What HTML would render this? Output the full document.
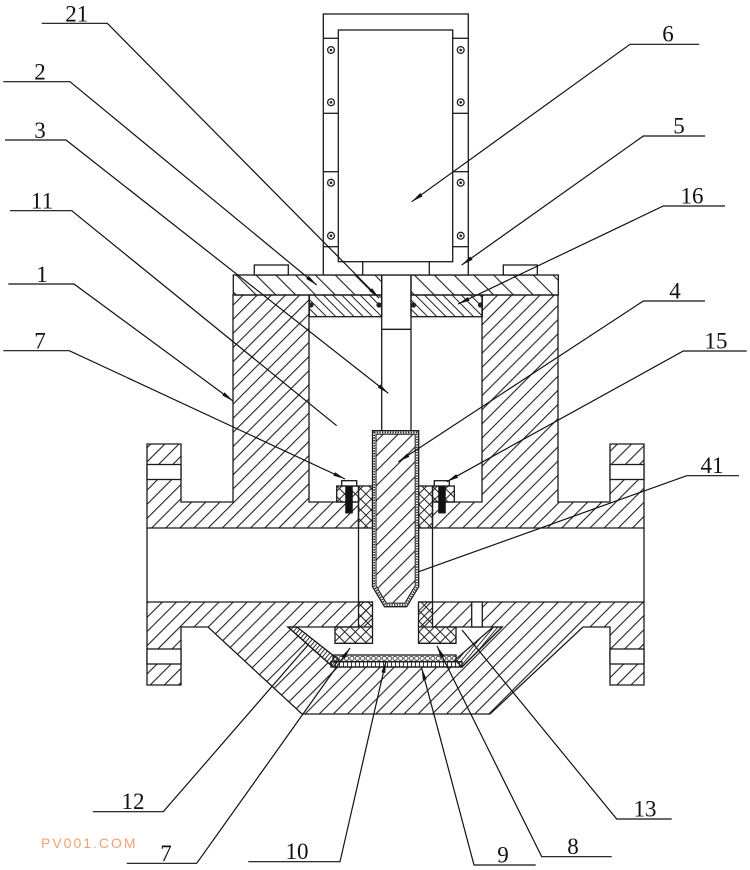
<!DOCTYPE html>
<html><head><meta charset="utf-8"><style>html,body{margin:0;padding:0;background:#fff}svg{display:block}</style></head>
<body>
<svg width="750" height="870" viewBox="0 0 750 870" xmlns="http://www.w3.org/2000/svg">
<defs>
<pattern id="hb" patternUnits="userSpaceOnUse" width="10" height="10" patternTransform="rotate(45)"><rect x="0" y="0" width="1.1" height="10" fill="#222"/></pattern>
<pattern id="h5" patternUnits="userSpaceOnUse" width="14" height="14" patternTransform="rotate(-45)"><rect x="0" y="0" width="1.1" height="14" fill="#222"/></pattern>
<pattern id="h16" patternUnits="userSpaceOnUse" width="6.5" height="6.5" patternTransform="rotate(-45)"><rect x="0" y="0" width="1" height="6.5" fill="#222"/></pattern>
<pattern id="hp" patternUnits="userSpaceOnUse" width="10.5" height="10.5" patternTransform="rotate(45)"><rect x="0" y="0" width="1.1" height="10.5" fill="#222"/></pattern>
<pattern id="hx" patternUnits="userSpaceOnUse" width="7.5" height="7.5" patternTransform="rotate(45)"><rect x="0" y="0" width="1" height="7.5" fill="#222"/><rect x="0" y="0" width="7.5" height="1" fill="#222"/></pattern>
<pattern id="hl" patternUnits="userSpaceOnUse" width="3.2" height="3.2" patternTransform="rotate(40)"><rect x="0" y="0" width="0.9" height="3.2" fill="#222"/></pattern>
<pattern id="h9" patternUnits="userSpaceOnUse" x="331" y="661.7" width="4" height="6"><rect x="0" y="0" width="0.9" height="6" fill="#222"/></pattern>
<pattern id="h10" patternUnits="userSpaceOnUse" x="333" y="655" width="5.4" height="6.7"><circle cx="2.7" cy="3.35" r="2.1" fill="none" stroke="#222" stroke-width="0.8"/></pattern>
<marker id="ar" markerUnits="userSpaceOnUse" markerWidth="12" markerHeight="4" viewBox="0 0 12 4" refX="12" refY="2" orient="auto"><path d="M0,0 L12,2 L0,4 Z" fill="#111"/></marker>
</defs>

<g stroke="#1a1a1a" stroke-width="1.3" stroke-linejoin="miter">
<!-- upper body left -->
<path d="M147,444 L181,444 L181,502 L233,502 L233,295 L309,295 L309,502 L358.5,502 L358.5,528 L147,528 Z" fill="url(#hb)"/>
<!-- upper body right -->
<path d="M644,444 L610,444 L610,502 L558,502 L558,295 L482,295 L482,502 L432.5,502 L432.5,528 L644,528 Z" fill="url(#hb)"/>
<!-- lower body -->
<path d="M147,602 L644,602 L644,685 L610,685 L610,627 L583,627 L490,714 L302,714 L208,627 L181,627 L181,685 L147,685 Z" fill="url(#hb)"/>
<!-- flange holes -->
<rect x="147" y="464.5" width="34" height="15" fill="#fff"/>
<rect x="610" y="464.5" width="34" height="15" fill="#fff"/>
<rect x="147" y="649" width="34" height="15" fill="#fff"/>
<rect x="610" y="649" width="34" height="15" fill="#fff"/>
<!-- pipe end lines -->
<line x1="147" y1="528" x2="147" y2="602"/>
<line x1="644" y1="528" x2="644" y2="602"/>
<!-- sleeve lines through pipe -->
<line x1="358.5" y1="528" x2="358.5" y2="602"/>
<line x1="432.5" y1="528" x2="432.5" y2="602"/>

<!-- cone cavity -->
<path d="M288,627 L502,627 L462,667 L333,667 Z" fill="#fff"/>
<!-- pin -->
<rect x="471.7" y="602" width="10.6" height="25" fill="#fff"/>
<!-- T void -->
<rect x="373" y="600" width="45" height="45" fill="#fff" stroke="none"/>
<rect x="336" y="643" width="119" height="12" fill="#fff" stroke="none"/>
<!-- liners 13 -->
<path d="M288,627 L297,627 L339,660 L333,667 Z" fill="url(#hl)"/>
<path d="M502,627 L493,627 L455,660 L462,667 Z" fill="url(#hl)"/>
<!-- strips 10 / 9 -->
<rect x="333" y="655" width="123" height="6.7" fill="url(#h10)"/>
<rect x="331" y="661.7" width="131" height="5.3" fill="url(#h9)"/>
<!-- lower bushings -->
<path d="M358.5,602 L372.5,602 L372.5,643.3 L335,643.3 L335,627 L358.5,627 Z" fill="url(#hx)"/>
<path d="M418.5,602 L432.5,602 L432.5,627 L456,627 L456,643.3 L418.5,643.3 Z" fill="url(#hx)"/>

<!-- upper bushings + glands -->
<rect x="336.7" y="486" width="21.8" height="16" fill="url(#hx)"/>
<rect x="432.5" y="486" width="21.8" height="16" fill="url(#hx)"/>
<rect x="358.5" y="486" width="14" height="42" fill="url(#hx)"/>
<rect x="418.5" y="486" width="14" height="42" fill="url(#hx)"/>
<rect x="341.7" y="480.7" width="15" height="5.3" fill="#fff"/>
<rect x="434.3" y="480.7" width="15" height="5.3" fill="#fff"/>
<rect x="345.7" y="486" width="6.6" height="27" fill="#111" stroke-width="1"/>
<rect x="438.7" y="486" width="6.6" height="27" fill="#111" stroke-width="1"/>

<!-- stem -->
<rect x="381.7" y="275" width="29.3" height="155.7" fill="#fff"/>
<line x1="381.7" y1="329.3" x2="411" y2="329.3"/>

<!-- plug 4 -->
<path d="M372.5,430.7 L418.7,430.7 L418.7,586.7 L406.7,606.7 L384.5,606.7 L372.5,586.7 Z" fill="#fff"/>
<path d="M376,434.2 L415.2,434.2 L415.2,585.8 L404.8,603.2 L386.4,603.2 L376,585.8 Z" fill="url(#hp)" stroke-width="1.1"/>
<path d="M374.2,432.4 L417,432.4 L417,586.2 L405.8,604.9 L385.4,604.9 L374.2,586.2 Z" fill="none" stroke-width="1.6" stroke-dasharray="1.3 1.3"/>

<!-- top plate 5 -->
<rect x="233.3" y="275" width="148.4" height="20" fill="url(#h5)"/>
<rect x="411" y="275" width="147.3" height="20" fill="url(#h5)"/>
<!-- plate 16 -->
<rect x="309.3" y="295" width="72.4" height="21.7" fill="url(#h16)"/>
<rect x="411" y="295" width="71.3" height="21.7" fill="url(#h16)"/>
<circle cx="311" cy="305" r="2.6" fill="#222" stroke="none"/>
<circle cx="379" cy="305" r="2.6" fill="#222" stroke="none"/>
<circle cx="413.5" cy="305" r="2.6" fill="#222" stroke="none"/>
<circle cx="480.5" cy="305" r="2.6" fill="#222" stroke="none"/>
<!-- small blocks -->
<rect x="254.3" y="265" width="34" height="10" fill="#fff"/>
<rect x="503.3" y="265" width="34" height="10" fill="#fff"/>

<!-- actuator 6 -->
<rect x="323.3" y="14" width="145" height="261" fill="#fff"/>
<rect x="338.3" y="30" width="114.4" height="231.7" fill="#fff"/>
<line x1="323.3" y1="38.3" x2="338.3" y2="38.3"/><line x1="452.7" y1="38.3" x2="468.3" y2="38.3"/>
<line x1="323.3" y1="113.3" x2="338.3" y2="113.3"/><line x1="452.7" y1="113.3" x2="468.3" y2="113.3"/>
<line x1="323.3" y1="171.7" x2="338.3" y2="171.7"/><line x1="452.7" y1="171.7" x2="468.3" y2="171.7"/>
<line x1="323.3" y1="246.7" x2="338.3" y2="246.7"/><line x1="452.7" y1="246.7" x2="468.3" y2="246.7"/>
<line x1="362.7" y1="261.7" x2="362.7" y2="275"/>
<line x1="429.3" y1="261.7" x2="429.3" y2="275"/>
</g>
<!-- screws -->
<g fill="#fff" stroke="#222" stroke-width="1.3">
<circle cx="331" cy="50" r="3.4"/><circle cx="331" cy="102.3" r="3.4"/><circle cx="331" cy="182.7" r="3.4"/><circle cx="331" cy="235.7" r="3.4"/>
<circle cx="460.7" cy="50" r="3.4"/><circle cx="460.7" cy="102.3" r="3.4"/><circle cx="460.7" cy="182.7" r="3.4"/><circle cx="460.7" cy="235.7" r="3.4"/>
</g>
<g fill="#222">
<circle cx="331" cy="50" r="1.3"/><circle cx="331" cy="102.3" r="1.3"/><circle cx="331" cy="182.7" r="1.3"/><circle cx="331" cy="235.7" r="1.3"/>
<circle cx="460.7" cy="50" r="1.3"/><circle cx="460.7" cy="102.3" r="1.3"/><circle cx="460.7" cy="182.7" r="1.3"/><circle cx="460.7" cy="235.7" r="1.3"/>
</g>

<!-- leaders -->
<g stroke="#111" stroke-width="1.2" fill="none">
<path d="M41.7,23.3 L107.3,23.3 L379,298" marker-end="url(#ar)"/>
<path d="M3.3,81.7 L70,81.7 L316.7,285" marker-end="url(#ar)"/>
<path d="M5,140 L66,140 L388.3,393.3" marker-end="url(#ar)"/>
<path d="M10,210.7 L71.7,210.7 L336.7,425.7"/>
<path d="M8.3,284 L74,284 L233,401" marker-end="url(#ar)"/>
<path d="M3.3,350.7 L69.3,350.7 L345,479" marker-end="url(#ar)"/>

<path d="M699.3,44.3 L630,44.3 L411.7,201.7" marker-end="url(#ar)"/>
<path d="M705,136 L643.3,136 L461.7,265" marker-end="url(#ar)"/>
<path d="M725,206 L663.3,206 L458,304" marker-end="url(#ar)"/>
<path d="M705,301 L643.3,301 L398.3,461.7" marker-end="url(#ar)"/>
<path d="M746.7,351 L683.3,351 L446.7,481.7" marker-end="url(#ar)"/>
<path d="M739,475.7 L686.7,475.7 L418.7,571.7"/>

<path d="M92.7,811.7 L163.3,811.7 L308,645"/>
<path d="M126.7,863.3 L196.7,863.3 L350,648" marker-end="url(#ar)"/>
<path d="M248.3,861.7 L340,861.7 L386,661" marker-end="url(#ar)"/>
<path d="M535.7,865 L474,865 L421.7,668.3" marker-end="url(#ar)"/>
<path d="M611.7,856.7 L541.7,856.7 L437,646" marker-end="url(#ar)"/>
<path d="M671.7,819 L616.7,819 L462,630"/>
</g>

<!-- labels -->
<g font-family="'Liberation Serif', serif" font-size="23" fill="#111" text-anchor="middle">
<text x="76.7" y="21.3">21</text>
<text x="40" y="79.5">2</text>
<text x="40" y="138">3</text>
<text x="42" y="208.5">11</text>
<text x="42" y="282">1</text>
<text x="40" y="348.5">7</text>
<text x="668" y="41.5">6</text>
<text x="679" y="133.5">5</text>
<text x="692" y="203.5">16</text>
<text x="675" y="298.5">4</text>
<text x="716" y="348.5">15</text>
<text x="712" y="473">41</text>
<text x="133" y="809">12</text>
<text x="166" y="861">7</text>
<text x="297" y="859">10</text>
<text x="503" y="862.5">9</text>
<text x="573" y="854">8</text>
<text x="645" y="816.5">13</text>
</g>
<text x="41" y="848" font-family="'Liberation Sans', sans-serif" font-size="14" letter-spacing="2" fill="#f2a173">PV001.COM</text>
</svg>
</body></html>
